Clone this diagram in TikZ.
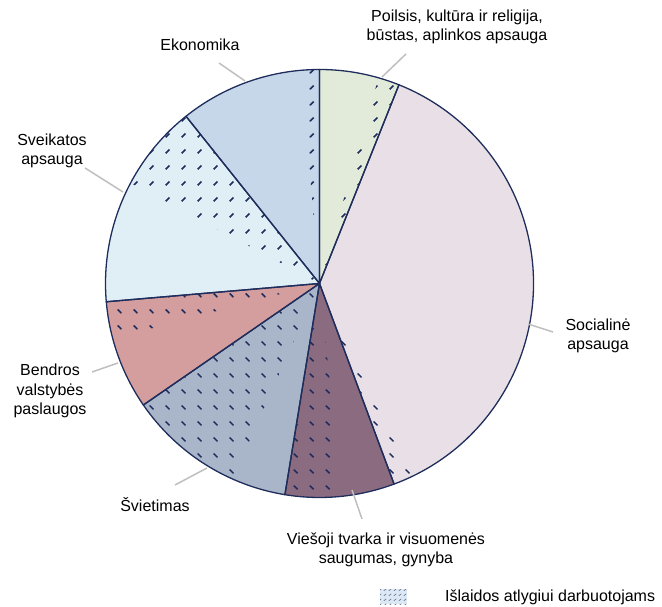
\documentclass[tikz,border=0pt]{standalone}
\usepackage{fontspec}
\setmainfont{Liberation Sans}
\usetikzlibrary{patterns.meta}
\definecolor{navy}{HTML}{1F2D5C}
\definecolor{cPoil}{HTML}{E2EAD9}
\definecolor{cSoc}{HTML}{E8E0E6}
\definecolor{cVie}{HTML}{8B6B80}
\definecolor{cSvi}{HTML}{A9B6CA}
\definecolor{cBen}{HTML}{D49E9E}
\definecolor{cSve}{HTML}{E0EFF5}
\definecolor{cEko}{HTML}{C6D7EA}
\definecolor{leader}{HTML}{BFBFBF}
\definecolor{legfill}{HTML}{DCE9F4}
\tikzdeclarepattern{
  name=hatchup, type=colored,
  bounding box={(0pt,0pt) and (16pt,16pt)},
  tile size={(16pt,16pt)},
  code={\draw[navy, line width=1.6pt] (6pt,6pt) -- (10pt,10pt);}
}
\tikzdeclarepattern{
  name=hatchdown, type=colored,
  bounding box={(0pt,0pt) and (16pt,16pt)},
  tile size={(16pt,16pt)},
  code={\draw[navy, line width=1.6pt] (6pt,10pt) -- (10pt,6pt);}
}
\tikzdeclarepattern{
  name=leghatch, type=colored,
  bounding box={(0pt,0pt) and (5.4pt,5pt)},
  tile size={(5.4pt,5pt)},
  code={\draw[navy!70, line width=0.7pt] (1pt,1.5pt) -- (3.5pt,3.5pt);}
}
\newcommand\lblfont{\fontsize{16}{19.5}\selectfont}
\tikzset{
  lbl/.style={align=center, font=\lblfont, inner sep=0pt, text=black},
  leaderline/.style={draw=leader, line width=1.5pt},
  rim/.style={draw=navy, line width=1.3pt, line join=round},
}
\newcommand\pieslice[4]{% options, start, end, radius
  \path[#1] (c) -- (#2:#4) arc[start angle=#2, end angle=#3, radius=#4] -- cycle;}
\begin{document}
\begin{tikzpicture}[x=1pt,y=1pt]
\useasboundingbox (0,0) rectangle (662,607);
\coordinate (c) at (319.5,323.5);
\def\R{214}
\begin{scope}[shift={(c)}]
  \coordinate (c) at (0,0);
  % base fills
  \pieslice{fill=cPoil}{68.2}{90}{\R}
  \pieslice{fill=cEko}{90}{128.6}{\R}
  \pieslice{fill=cSve}{128.6}{184.9}{\R}
  \pieslice{fill=cBen}{184.9}{214.6}{\R}
  \pieslice{fill=cSvi}{214.6}{260.7}{\R}
  \pieslice{fill=cVie}{260.7}{290.4}{\R}
  \pieslice{fill=cSoc}{-69.6}{68.2}{\R}
  % compensation parts
  \pieslice{pattern=hatchup}{68.2}{74}{\R}
  \pieslice{pattern=hatchup}{90}{95}{\R}
  \pieslice{pattern=hatchup}{128.6}{152}{\R}
  \pieslice{pattern=hatchdown}{184.9}{195}{\R}
  \pieslice{pattern=hatchdown}{214.6}{246}{\R}
  \pieslice{pattern=hatchdown}{260.7}{276}{\R}
  \pieslice{pattern=hatchdown}{290.4}{296}{\R}
  % outlines
  \pieslice{rim}{68.2}{90}{\R}
  \pieslice{rim}{90}{128.6}{\R}
  \pieslice{rim}{128.6}{184.9}{\R}
  \pieslice{rim}{184.9}{214.6}{\R}
  \pieslice{rim}{214.6}{260.7}{\R}
  \pieslice{rim}{260.7}{290.4}{\R}
  \pieslice{rim}{-69.6}{68.2}{\R}
\end{scope}
% labels
\node[lbl] (eko) at (200,562) {Ekonomika};
\node[lbl] (poil) at (457,580) {Poilsis, kultūra ir religija,\\būstas, aplinkos apsauga};
\node[lbl] (sve) at (52,456) {Sveikatos\\apsauga};
\node[lbl] (ben) at (50,216) {Bendros\\valstybės\\paslaugos};
\node[lbl] (svi) at (155,102) {Švietimas};
\node[lbl] (vie) at (386,57) {Viešoji tvarka ir visuomenės\\saugumas, gynyba};
\node[lbl] (soc) at (598,271) {Socialinė\\apsauga};
% leader line ends
\coordinate (eko-a) at (219,544); \coordinate (eko-b) at (245,526);
\coordinate (poil-a) at (406,553); \coordinate (poil-b) at (382,530);
\coordinate (sve-a) at (85,439); \coordinate (sve-b) at (123,415);
\coordinate (ben-a) at (92,235); \coordinate (ben-b) at (118,244);
\coordinate (svi-a) at (175,122); \coordinate (svi-b) at (207,139);
\coordinate (vie-a) at (362,88); \coordinate (vie-b) at (352,117);
\coordinate (soc-a) at (553,275); \coordinate (soc-b) at (528,283);
\foreach \n in {eko,poil,sve,ben,svi,vie,soc}{\draw[leaderline] (\n-a) -- (\n-b);}
% legend
\node[preaction={fill=legfill}, pattern=leghatch, minimum width=27pt, minimum height=15pt, inner sep=0pt] (legsw) at (393.5,10) {};
\node[lbl, anchor=west] (legtxt) at (445,10) {Išlaidos atlygiui darbuotojams};
\end{tikzpicture}
\end{document}
